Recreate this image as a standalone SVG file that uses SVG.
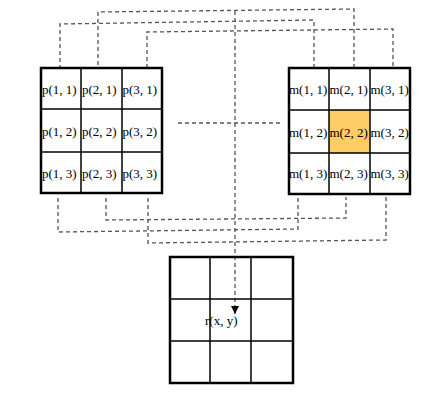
<svg xmlns="http://www.w3.org/2000/svg" width="445" height="404" viewBox="0 0 445 404">
<defs>
<style>
.cell{fill:#fff;stroke:#000;stroke-width:1.5}
.outer{fill:none;stroke:#000;stroke-width:2.5}
.inner{stroke:#000;stroke-width:1.5}
.hl{fill:#FFCC66}
.t{font-family:"Liberation Serif","Times New Roman",serif;font-size:13px;fill:#000}
.d{fill:none;stroke:#555;stroke-width:1.3;stroke-dasharray:4,3}
</style>
<marker id="ah" viewBox="0 0 10 10" refX="10" refY="5" markerWidth="8" markerHeight="8" markerUnits="userSpaceOnUse" orient="auto">
<path d="M0,0 L10,5 L0,10 z" fill="#000"/>
</marker>
</defs>
<rect width="445" height="404" fill="#fff"/>
<g id="connectors">
<polyline class="d" points="98,72 98,12 354,9 354,80"/>
<polyline class="d" points="60,76 60,24 314,20 314,83"/>
<polyline class="d" points="147,75 147,32 393,29 393,70"/>
<polyline class="d" points="58,198 58,232 298,229 298,197"/>
<polyline class="d" points="106,198 106,220 346,218 346,197"/>
<polyline class="d" points="148,198 148,243 386,240 386,197"/>
<line class="d" x1="178" y1="123" x2="282" y2="123"/>
<line class="d" x1="235" y1="11" x2="235" y2="314" stroke="#333" marker-end="url(#ah)"/>
</g>
<g id="grid-p">
<rect x="41" y="68" width="121" height="125" fill="#fff"/>
<line class="inner" x1="81" y1="68" x2="81" y2="193"/>
<line class="inner" x1="122" y1="68" x2="122" y2="193" stroke-width="2"/>
<line class="inner" x1="41" y1="109" x2="162" y2="109" stroke-width="2"/>
<line class="inner" x1="41" y1="152" x2="162" y2="152" stroke-width="2"/>
<rect class="outer" x="41" y="68" width="121" height="125"/>
<text class="t" x="42" y="94">p(1, 1)</text>
<text class="t" x="82" y="94">p(2, 1)</text>
<text class="t" x="122.5" y="94">p(3, 1)</text>
<text class="t" x="42" y="136">p(1, 2)</text>
<text class="t" x="82" y="136">p(2, 2)</text>
<text class="t" x="122.5" y="136">p(3, 2)</text>
<text class="t" x="42" y="178">p(1, 3)</text>
<text class="t" x="82" y="178">p(2, 3)</text>
<text class="t" x="122.5" y="178">p(3, 3)</text>
</g>
<g id="grid-m">
<rect x="289" y="68" width="121" height="126" fill="#fff"/>
<rect class="hl" x="329" y="110" width="41" height="43"/>
<line class="inner" x1="329" y1="68" x2="329" y2="194"/>
<line class="inner" x1="370" y1="68" x2="370" y2="194" stroke-width="2"/>
<line class="inner" x1="289" y1="110" x2="410" y2="110" stroke-width="2"/>
<line class="inner" x1="289" y1="153" x2="410" y2="153" stroke-width="2"/>
<rect class="outer" x="289" y="68" width="121" height="126"/>
<text class="t" x="289" y="94">m(1, 1)</text>
<text class="t" x="329.5" y="94">m(2, 1)</text>
<text class="t" x="370.5" y="94">m(3, 1)</text>
<text class="t" x="289" y="137">m(1, 2)</text>
<text class="t" x="329.5" y="137">m(2, 2)</text>
<text class="t" x="370.5" y="137">m(3, 2)</text>
<text class="t" x="289" y="178">m(1, 3)</text>
<text class="t" x="329.5" y="178">m(2, 3)</text>
<text class="t" x="370.5" y="178">m(3, 3)</text>
</g>
<g id="grid-r">
<line class="inner" x1="210" y1="257" x2="210" y2="383"/>
<line class="inner" x1="251" y1="257" x2="251" y2="383"/>
<line class="inner" x1="170" y1="299" x2="293" y2="299" stroke-width="2"/>
<line class="inner" x1="170" y1="341" x2="293" y2="341" stroke-width="2"/>
<rect class="outer" x="170" y="257" width="123" height="126"/>
<text class="t" x="205" y="325">r(x, y)</text>
</g>
</svg>
